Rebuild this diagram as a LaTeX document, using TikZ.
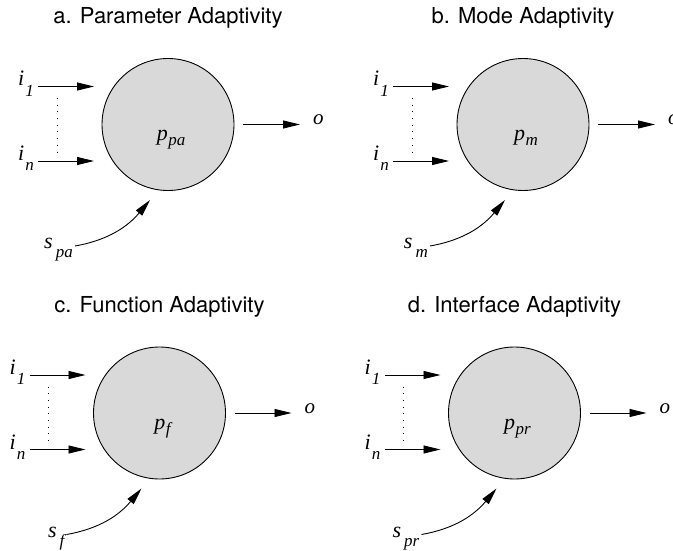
\documentclass[tikz,border=0pt]{standalone}
\usepackage{fontspec}
\setmainfont{Liberation Serif}
\newfontfamily\ttlfont{TeX Gyre Heros}
\usetikzlibrary{arrows.meta}
\tikzset{
  proc/.style={circle, draw, line width=0.9pt, fill=gray!30, minimum size=132pt, inner sep=0pt},
  ttl/.style={font=\ttlfont\fontsize{22}{26}\selectfont, inner sep=0pt},
  var/.style={font=\itshape\fontsize{22}{26}\selectfont, inner sep=0pt},
  outv/.style={font=\itshape\fontsize{21}{24}\selectfont, inner sep=0pt},
  conn/.style={line width=0.9pt, -{Triangle[length=17pt,width=8pt]}},
  dotline/.style={line width=0.9pt, dash pattern=on 0.9pt off 5.8pt},
}
\newcommand\lsub[3]{\kern#1pt\raisebox{-#2pt}{\fontsize{17}{17}\selectfont\itshape #3}}
\newcommand\adpanel[6]{%
\begin{scope}[shift={(#1,#2)}]
 \node[proc] (#6c) at (0,0) {};
 \node[var, anchor=base] (#6p) at (3,16) {p\lsub{0.5}{5}{#4}};
 \node[ttl, anchor=base] (#6t) at (0,-100.5) {#3};
 \coordinate (#6i1s) at (-130,-38);
 \coordinate (#6i1e) at (-74,-38);
 \coordinate (#6ins) at (-130,36.5);
 \coordinate (#6ine) at (-74,36.5);
 \coordinate (#6d1) at (-111,-26.5);
 \coordinate (#6d2) at (-111,27.5);
 \coordinate (#6os) at (75,0);
 \coordinate (#6oe) at (132,0);
 \coordinate (#6ss) at (-93,121.5);
 \coordinate (#6se) at (-18,75.5);
 \node[var, anchor=base east] (#6i1) at (-134,-38.5) {i\lsub{1}{10}{1}};
 \node[var, anchor=base east] (#6in) at (-134,36) {i\lsub{1}{10}{n}};
 \node[outv, anchor=base west] (#6o) at (145,0) {o};
 \node[var, anchor=base east] (#6s) at (-95,124) {s\lsub{3}{9}{#5}};
 \draw[conn] (#6i1s) -- (#6i1e);
 \draw[conn] (#6ins) -- (#6ine);
 \draw[dotline] (#6d1) -- (#6d2);
 \draw[conn] (#6os) -- (#6oe);
 \draw[conn] (#6ss) to[out=10,in=230] (#6se);
\end{scope}}
\begin{document}
\begin{tikzpicture}[x=1pt,y=-1pt]
\useasboundingbox (0,0) rectangle (673,551);
\clip (0,0) rectangle (673,551);
\adpanel{168}{124.5}{a. Parameter Adaptivity}{pa}{pa}{A}
\adpanel{523}{124.5}{b. Mode Adaptivity}{m}{m}{B}
\adpanel{159.5}{413}{c. Function Adaptivity}{f}{f}{C}
\adpanel{514.5}{413}{d. Interface Adaptivity}{pr}{pr}{D}
\end{tikzpicture}
\end{document}
